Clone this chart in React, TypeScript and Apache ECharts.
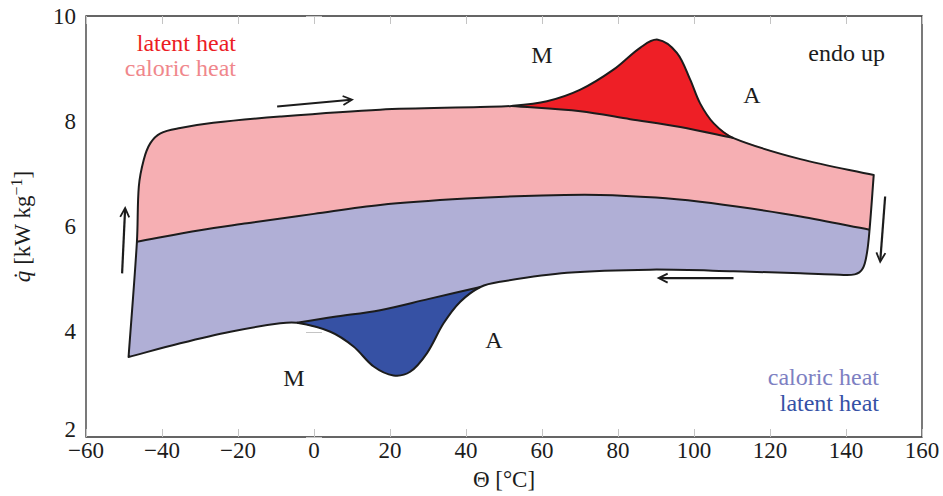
import React, { useEffect, useRef } from "react";
import * as echarts from "echarts";

type P = [number, number];

// Heating run (upper curve), from lower-left corner to upper-right end
const heatingCurve: P[] = [
  [-48.8, 3.52], [-46.6, 5.71], [-46.1, 6.76], [-44.8, 7.27], [-43.1, 7.58],
  [-40.4, 7.77], [-35.2, 7.87], [-26.5, 7.97], [-8.9, 8.09], [17.4, 8.22],
  [43.8, 8.27], [52.0, 8.29], [61.3, 8.38], [70.1, 8.6], [78.8, 8.98],
  [85.9, 9.4], [90.5, 9.55], [95.5, 9.3], [99.0, 8.79], [101.6, 8.34],
  [105.2, 7.96], [110.4, 7.68], [128.0, 7.28], [147.3, 6.98],
];
// Baseline under the endothermic (latent) peak
const heatingBaseline: P[] = [
  [52.0, 8.29], [70.1, 8.19], [83.2, 8.04], [96.4, 7.89], [110.4, 7.68],
];
// Boundary between the two caloric-heat bands
const middleLine: P[] = [
  [-46.6, 5.71], [-30, 5.93], [-17.6, 6.06], [0, 6.24], [17.4, 6.41],
  [40, 6.53], [60, 6.59], [75.3, 6.6], [90, 6.55], [101.6, 6.47],
  [115, 6.34], [128, 6.19], [146.2, 5.94],
];
// Cooling run (lower curve), from upper-right end to lower-left corner
const coolingCurve: P[] = [
  [147.3, 6.98], [146.2, 5.94], [145.5, 5.49], [144.4, 5.2], [142.3, 5.09],
  [136.7, 5.09], [128.0, 5.11], [110.4, 5.15], [88.5, 5.18], [66.6, 5.12],
  [49.0, 4.95], [43.8, 4.85], [38.5, 4.57], [34.1, 4.16], [29.7, 3.59],
  [25.3, 3.24], [20.9, 3.17], [15.7, 3.34], [10.4, 3.72], [4.3, 4.0],
  [-4.5, 4.17], [-8.9, 4.16], [-22.0, 4.0], [-35.2, 3.78], [-48.8, 3.52],
];
// Baseline across the exothermic (latent) dip
const coolingBaseline: P[] = [
  [-4.5, 4.17], [5, 4.28], [17.4, 4.41], [30, 4.62], [43.8, 4.85],
];
// Direction arrows: [tail, tip]
const arrows: [P, P][] = [
  [[-50.5, 5.11], [-49.7, 6.35]],
  [[-9.7, 8.28], [10.0, 8.41]],
  [[150.3, 6.57], [149.0, 5.33]],
  [[110.4, 5.02], [90.7, 5.02]],
];

const FONT = "'Liberation Serif', serif";
const INK = "#1c1c1c";

function idx(arr: P[], p: P) {
  return arr.findIndex((q) => q[0] === p[0] && q[1] === p[1]);
}
function seg(arr: P[], a: P, b: P): P[] {
  const i = idx(arr, a);
  const j = idx(arr, b);
  return i <= j ? arr.slice(i, j + 1) : arr.slice(j, i + 1).reverse();
}
function rev(arr: P[]): P[] {
  return arr.slice().reverse();
}

function unit(dx: number, dy: number) {
  const l = Math.hypot(dx, dy) || 1;
  return [dx / l, dy / l];
}

function smoothCmds(pts: number[][]): string {
  const n = pts.length;
  if (n < 2) return "";
  if (n === 2) return ` L ${pts[1][0]} ${pts[1][1]}`;
  const tan: number[][] = [];
  for (let i = 0; i < n; i++) {
    const a = pts[Math.max(0, i - 1)];
    const b = pts[Math.min(n - 1, i + 1)];
    tan.push(unit(b[0] - a[0], b[1] - a[1]));
  }
  let s = "";
  for (let i = 0; i < n - 1; i++) {
    const p = pts[i];
    const q = pts[i + 1];
    const d = Math.hypot(q[0] - p[0], q[1] - p[1]) / 3;
    const c1 = [p[0] + tan[i][0] * d, p[1] + tan[i][1] * d];
    const c2 = [q[0] - tan[i + 1][0] * d, q[1] - tan[i + 1][1] * d];
    s += ` C ${c1[0]} ${c1[1]} ${c2[0]} ${c2[1]} ${q[0]} ${q[1]}`;
  }
  return s;
}

function buildPath(segs: number[][][], close: boolean) {
  let s = `M ${segs[0][0][0]} ${segs[0][0][1]}`;
  for (const sg of segs) s += smoothCmds(sg);
  if (close) s += " Z";
  return s;
}

const hb0 = heatingBaseline[0];
const hb1 = heatingBaseline[heatingBaseline.length - 1];
const cb0 = coolingBaseline[0];
const cb1 = coolingBaseline[coolingBaseline.length - 1];
const hEnd = heatingCurve[heatingCurve.length - 1];
const mStart = middleLine[0];
const mEnd = middleLine[middleLine.length - 1];
const cEnd = coolingCurve[coolingCurve.length - 1];

const regions: { color: string; segs: P[][] }[] = [
  {
    color: "#f6afb3",
    segs: [
      seg(heatingCurve, mStart, hb0),
      heatingBaseline,
      seg(heatingCurve, hb1, hEnd),
      [hEnd, mEnd],
      rev(middleLine),
    ],
  },
  {
    color: "#ee1f26",
    segs: [seg(heatingCurve, hb0, hb1), rev(heatingBaseline)],
  },
  {
    color: "#b0afd6",
    segs: [
      middleLine,
      seg(coolingCurve, mEnd, cb1),
      rev(coolingBaseline),
      seg(coolingCurve, cb0, cEnd),
      [cEnd, mStart],
    ],
  },
  {
    color: "#3651a4",
    segs: [seg(coolingCurve, cb1, cb0), coolingBaseline],
  },
];

const strokes: { segs: P[][]; close: boolean }[] = [
  { segs: [heatingCurve, coolingCurve], close: true },
  { segs: [middleLine], close: false },
  { segs: [heatingBaseline], close: false },
  { segs: [coolingBaseline], close: false },
];

const texts = [
  { text: "latent heat", x: 236, y: 43, color: "#ec1c24", align: "right" },
  { text: "caloric heat", x: 236, y: 68, color: "#f0878c", align: "right" },
  { text: "M", x: 542, y: 55, color: INK, align: "center" },
  { text: "A", x: 752, y: 95, color: INK, align: "center" },
  { text: "endo up", x: 885, y: 53, color: INK, align: "right" },
  { text: "M", x: 294, y: 378, color: INK, align: "center" },
  { text: "A", x: 494, y: 340, color: INK, align: "center" },
  { text: "caloric heat", x: 879, y: 377, color: "#7d80c2", align: "right" },
  { text: "latent heat", x: 879, y: 403, color: "#3551a6", align: "right" },
];

const fmtX = (v: number) => (v < 0 ? "\u2212" + Math.abs(v) : String(v));
const fmtY = (v: number) => (v === 2 ? "{low|2}" : String(v));

export default function App() {
  const ref = useRef<HTMLDivElement>(null);
  useEffect(() => {
    if (!ref.current) return;
    const chart = echarts.init(ref.current, undefined, { renderer: "svg" });
    const tickStyle = { color: "#c4c4c4", width: 1 };
    const labelStyle = { color: INK, fontFamily: FONT, fontSize: 23 };
    chart.setOption({
      animation: false,
      textStyle: { fontFamily: FONT },
      grid: {
        left: 86,
        right: 21,
        top: 16,
        bottom: 59,
        show: true,
        borderColor: "#333",
        borderWidth: 1.3,
      },
      xAxis: [
        {
          type: "value",
          min: -60,
          max: 160,
          interval: 20,
          position: "bottom",
          axisLine: { show: false },
          axisTick: { inside: true, length: 8, lineStyle: tickStyle },
          splitLine: { show: false },
          axisLabel: { ...labelStyle, formatter: fmtX, margin: 2, showMinLabel: true, showMaxLabel: true },
          name: "\u0398 [\u00B0C]",
          nameLocation: "middle",
          nameGap: 31,
          nameTextStyle: { color: INK, fontFamily: FONT, fontSize: 23 },
        },
        {
          type: "value",
          min: -60,
          max: 160,
          interval: 20,
          position: "top",
          axisLine: { show: false },
          axisTick: { inside: true, length: 8, lineStyle: tickStyle },
          splitLine: { show: false },
          axisLabel: { show: false },
        },
      ],
      yAxis: [
        {
          type: "value",
          min: 2,
          max: 10,
          interval: 2,
          position: "left",
          axisLine: { show: false },
          axisTick: { inside: true, length: 8, lineStyle: tickStyle },
          splitLine: { show: false },
          axisLabel: {
            ...labelStyle,
            margin: 10,
            formatter: fmtY,
            showMinLabel: true,
            showMaxLabel: true,
            rich: {
              low: { color: INK, fontFamily: FONT, fontSize: 23, padding: [0, 0, 16, 0] },
            },
          },
          name: "{i|q\u0307} [kW kg{s|\u22121}]",
          nameLocation: "middle",
          nameRotate: 90,
          nameGap: 50,
          nameTextStyle: {
            color: INK,
            fontFamily: FONT,
            fontSize: 23,
            rich: {
              i: { fontStyle: "italic", fontFamily: FONT, fontSize: 23, color: INK },
              s: { fontFamily: FONT, fontSize: 16, color: INK, verticalAlign: "top", padding: [0, 0, 12, 0] },
            },
          },
        },
        {
          type: "value",
          min: 2,
          max: 10,
          interval: 2,
          position: "right",
          axisLine: { show: false },
          axisTick: { inside: true, length: 8, lineStyle: tickStyle },
          splitLine: { show: false },
          axisLabel: { show: false },
        },
      ],
      series: [
        {
          type: "custom",
          xAxisIndex: 0,
          yAxisIndex: 0,
          silent: true,
          data: regions.map((r) => r.segs[0][0]),
          renderItem: (params: any, api: any) => {
            const r = regions[params.dataIndex];
            const segs = r.segs.map((s) => s.map((p) => api.coord(p)));
            return {
              type: "path",
              shape: { pathData: buildPath(segs, true) },
              style: { fill: r.color, stroke: "none" },
            };
          },
        },
        {
          type: "custom",
          xAxisIndex: 0,
          yAxisIndex: 0,
          silent: true,
          data: strokes.map((s) => s.segs[0][0]),
          renderItem: (params: any, api: any) => {
            const s = strokes[params.dataIndex];
            const segs = s.segs.map((sg) => sg.map((p) => api.coord(p)));
            return {
              type: "path",
              shape: { pathData: buildPath(segs, s.close) },
              style: { fill: "none", stroke: INK, lineWidth: 2, lineJoin: "round" },
            };
          },
        },
        {
          type: "custom",
          xAxisIndex: 0,
          yAxisIndex: 0,
          silent: true,
          data: arrows.map((a) => a[1]),
          renderItem: (params: any, api: any) => {
            const a = arrows[params.dataIndex];
            const t = api.coord(a[0]);
            const h = api.coord(a[1]);
            const [ux, uy] = unit(h[0] - t[0], h[1] - t[1]);
            const L = 9;
            const W = 4.5;
            const bx = h[0] - ux * L;
            const by = h[1] - uy * L;
            const w1 = [bx - uy * W, by + ux * W];
            const w2 = [bx + uy * W, by - ux * W];
            return {
              type: "group",
              children: [
                {
                  type: "line",
                  shape: { x1: t[0], y1: t[1], x2: h[0] - ux * 1, y2: h[1] - uy * 1 },
                  style: { stroke: INK, lineWidth: 2.2 },
                },
                {
                  type: "polyline",
                  shape: { points: [w1, [h[0], h[1]], w2] },
                  style: { stroke: INK, lineWidth: 1.8, fill: "none", lineJoin: "miter" },
                },
              ],
            };
          },
        },
      ],
      graphic: texts.map((t) => ({
        type: "text",
        x: t.x,
        y: t.y,
        silent: true,
        style: {
          text: t.text,
          fill: t.color,
          fontFamily: FONT,
          fontSize: 24,
          align: t.align,
          textAlign: t.align,
          verticalAlign: "middle",
          textVerticalAlign: "middle",
        },
      })),
    });
    return () => chart.dispose();
  }, []);
  return (
    <div
      ref={ref}
      style={{ position: "absolute", left: 0, top: 0, width: 943, height: 496 }}
    />
  );
}
